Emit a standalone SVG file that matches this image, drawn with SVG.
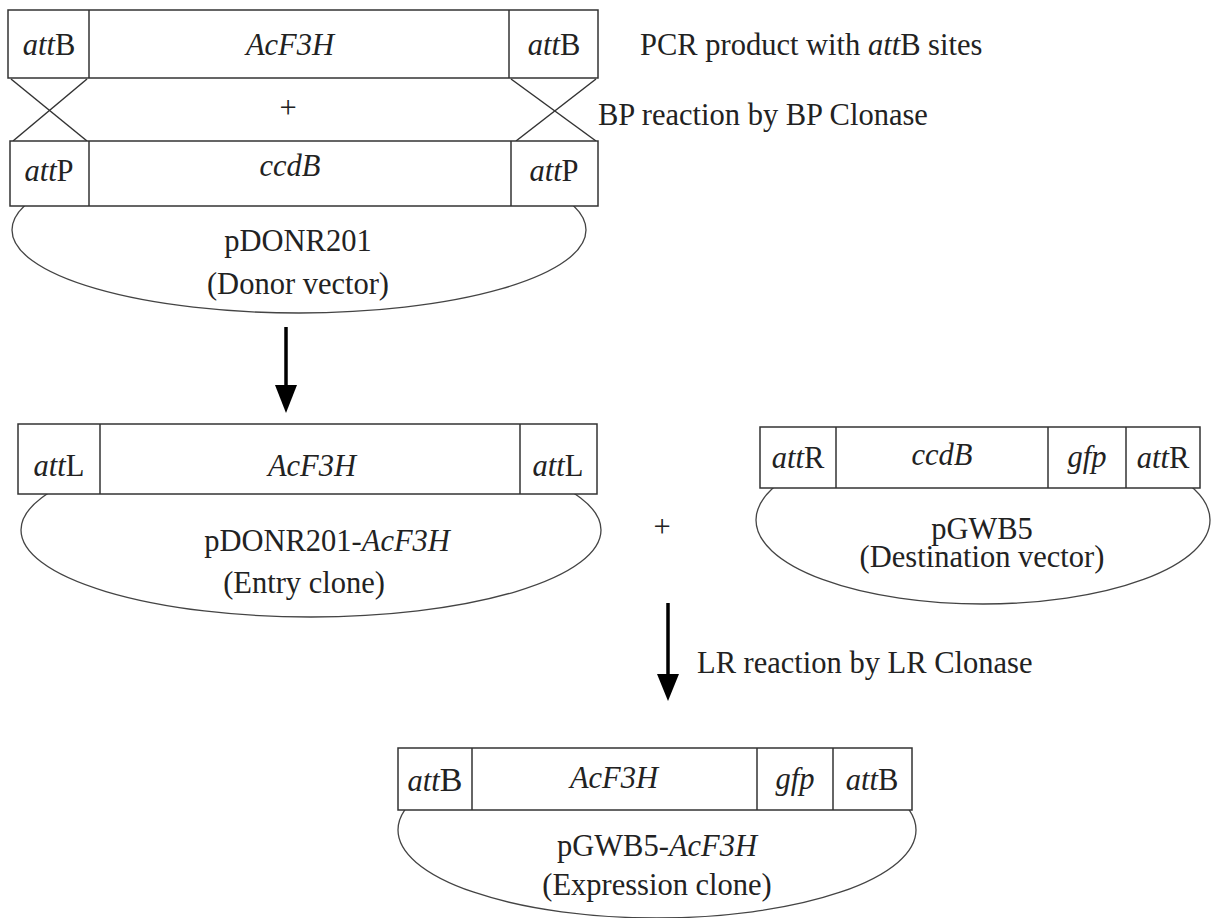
<svg xmlns="http://www.w3.org/2000/svg" width="1211" height="918" viewBox="0 0 1211 918">
<style>
.bx{fill:#fff;stroke:#333;stroke-width:1.5}
.ln{fill:none;stroke:#333;stroke-width:1.5}
.el{fill:#fff;stroke:#444;stroke-width:1.3}
.dtxt{font-family:'Liberation Serif','Times New Roman',serif;font-size:30.5px;fill:#222;text-anchor:middle}
.ital{font-style:italic}
.lft{text-anchor:start}
.ar{stroke:#000;stroke-width:3.5;fill:none}
</style>
<defs>
<clipPath id="c1"><rect x="0" y="206" width="620" height="200"/></clipPath>
<clipPath id="c2"><rect x="0" y="494" width="640" height="200"/></clipPath>
<clipPath id="c3"><rect x="740" y="488" width="471" height="200"/></clipPath>
<clipPath id="c4"><rect x="380" y="810" width="560" height="120"/></clipPath>
</defs>

<g id="pcr-product">
<rect class="bx" x="8" y="10" width="590" height="68"/>
<line class="ln" x1="89" y1="10" x2="89" y2="78"/>
<line class="ln" x1="509" y1="10" x2="509" y2="78"/>
<text class="dtxt" x="49" y="55"><tspan class="ital">att</tspan>B</text>
<text class="dtxt ital" x="290" y="55">AcF3H</text>
<text class="dtxt" x="554" y="55"><tspan class="ital">att</tspan>B</text>
</g>

<g id="crossover">
<line class="ln" x1="11" y1="79" x2="87" y2="141"/>
<line class="ln" x1="87" y1="79" x2="13" y2="141"/>
<line class="ln" x1="511" y1="79" x2="596" y2="141"/>
<line class="ln" x1="596" y1="79" x2="516" y2="141"/>
<text class="dtxt" x="288" y="118">+</text>
</g>

<g id="pdonr201">
<ellipse class="el" cx="299" cy="230" rx="287" ry="83" clip-path="url(#c1)"/>
<rect class="bx" x="10" y="141" width="588" height="65"/>
<line class="ln" x1="89" y1="141" x2="89" y2="206"/>
<line class="ln" x1="511" y1="141" x2="511" y2="206"/>
<text class="dtxt" x="49" y="181"><tspan class="ital">att</tspan>P</text>
<text class="dtxt ital" x="290" y="176">ccdB</text>
<text class="dtxt" x="554" y="181"><tspan class="ital">att</tspan>P</text>
<text class="dtxt" x="298" y="251">pDONR201</text>
<text class="dtxt" x="298" y="294">(Donor vector)</text>
</g>

<g id="labels-top">
<text class="dtxt lft" x="640" y="55">PCR product with <tspan class="ital">att</tspan>B sites</text>
<text class="dtxt lft" x="598" y="125">BP reaction by BP Clonase</text>
</g>

<g id="entry-clone">
<ellipse class="el" cx="311" cy="530" rx="290" ry="87" clip-path="url(#c2)"/>
<rect class="bx" x="18" y="424" width="579" height="70"/>
<line class="ln" x1="100" y1="424" x2="100" y2="494"/>
<line class="ln" x1="520" y1="424" x2="520" y2="494"/>
<text class="dtxt" x="59" y="476"><tspan class="ital">att</tspan>L</text>
<text class="dtxt ital" x="312" y="476">AcF3H</text>
<text class="dtxt" x="558" y="476"><tspan class="ital">att</tspan>L</text>
<text class="dtxt" x="327" y="551">pDONR201-<tspan class="ital">AcF3H</tspan></text>
<text class="dtxt" x="304" y="593">(Entry clone)</text>
</g>

<g id="plus2"><text class="dtxt" x="662" y="537">+</text></g>

<g id="destination">
<ellipse class="el" cx="983" cy="520" rx="227" ry="84" clip-path="url(#c3)"/>
<rect class="bx" x="760" y="427" width="440" height="61"/>
<line class="ln" x1="836" y1="427" x2="836" y2="488"/>
<line class="ln" x1="1048" y1="427" x2="1048" y2="488"/>
<line class="ln" x1="1126" y1="427" x2="1126" y2="488"/>
<text class="dtxt" x="798" y="468"><tspan class="ital">att</tspan>R</text>
<text class="dtxt ital" x="942" y="465">ccdB</text>
<text class="dtxt ital" x="1087" y="467">gfp</text>
<text class="dtxt" x="1163" y="468"><tspan class="ital">att</tspan>R</text>
<text class="dtxt" x="982" y="539">pGWB5</text>
<text class="dtxt" x="982" y="567">(Destination vector)</text>
</g>

<g id="connectors">
<line class="ar" x1="286" y1="327" x2="286" y2="390"/>
<path d="M275,385 L297,385 L286,413 Z" fill="#000"/>
<line class="ar" x1="668" y1="603" x2="668" y2="680"/>
<path d="M657,674 L679,674 L668,701 Z" fill="#000"/>
</g>

<g id="lr-label"><text class="dtxt lft" x="697" y="673">LR reaction by LR Clonase</text></g>

<g id="expression-clone">
<ellipse class="el" cx="657" cy="830" rx="259" ry="88" clip-path="url(#c4)"/>
<rect class="bx" x="398" y="748" width="514" height="62"/>
<line class="ln" x1="472" y1="748" x2="472" y2="810"/>
<line class="ln" x1="757" y1="748" x2="757" y2="810"/>
<line class="ln" x1="833" y1="748" x2="833" y2="810"/>
<text class="dtxt" x="435" y="791"><tspan class="ital">att</tspan><tspan font-size="34">B</tspan></text>
<text class="dtxt ital" x="614" y="788">AcF3H</text>
<text class="dtxt ital" x="795" y="789">gfp</text>
<text class="dtxt" x="872" y="790"><tspan class="ital">att</tspan>B</text>
<text class="dtxt" x="657" y="856">pGWB5-<tspan class="ital">AcF3H</tspan></text>
<text class="dtxt" x="657" y="895">(Expression clone)</text>
</g>
</svg>
